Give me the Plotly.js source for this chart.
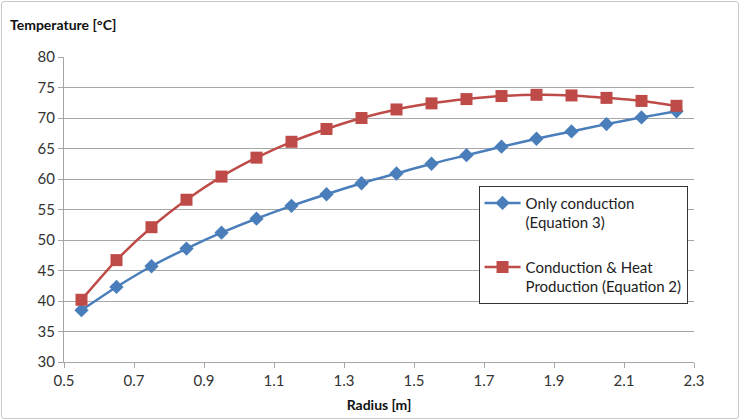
<!DOCTYPE html>
<html>
<head>
<meta charset="utf-8">
<script src="https://cdn.plot.ly/plotly-3.0.1.min.js"></script>
<style>
html,body{margin:0;padding:0;background:#fff;}
#chart{width:740px;height:420px;position:relative;}
#frame{position:absolute;left:1px;top:1px;width:736px;height:416px;border:1px solid #c8c8c8;border-radius:3px;pointer-events:none;}
</style>
</head>
<body>
<div style="position:relative;width:740px;height:420px;">
<div id="chart"></div>
<div id="frame"></div>
</div>
<script>
const radius = [0.55,0.65,0.75,0.85,0.95,1.05,1.15,1.25,1.35,1.45,1.55,1.65,1.75,1.85,1.95,2.05,2.15,2.25];
const onlyConduction = [38.5,42.3,45.7,48.6,51.2,53.5,55.6,57.5,59.3,60.9,62.5,63.9,65.3,66.6,67.8,69.0,70.1,71.1];
const conductionHeat = [40.2,46.7,52.1,56.6,60.4,63.5,66.1,68.2,70.0,71.4,72.4,73.1,73.6,73.8,73.7,73.3,72.8,72.0];
const seriesNames = ['Only conduction<br>(Equation 3)', 'Conduction &amp; Heat<br>Production (Equation 2)'];
const xTicks = [0.5,0.7,0.9,1.1,1.3,1.5,1.7,1.9,2.1,2.3];
const yTicks = [30,35,40,45,50,55,60,65,70,75,80];

const font = 'Lato, "Open Sans", sans-serif';
const traces = [
  {x: radius, y: onlyConduction, name: seriesNames[0], type:'scatter', mode:'lines+markers',
   legendgroup:'a',
   line:{color:'#4A7EBB', width:2.5, shape:'spline', smoothing:0.6},
   marker:{symbol:'diamond', size:11, color:'#4A7EBB'}},
  {x: radius, y: conductionHeat, name: seriesNames[1], type:'scatter', mode:'lines+markers',
   legendgroup:'b',
   line:{color:'#BE4B48', width:2.5, shape:'spline', smoothing:0.6},
   marker:{symbol:'square', size:12, color:'#BE4B48'}}
];
const layout = {
  width:740, height:420,
  margin:{l:64, r:46, t:57, b:58},
  paper_bgcolor:'#fff', plot_bgcolor:'#fff',
  font:{family:font, size:15, color:'#222'},
  title:{text:'<b>Temperature [°C]</b>', x:10/740, xanchor:'left', y:1-25/420, yanchor:'middle',
         font:{family:font, size:14, color:'#111'}},
  xaxis:{range:[0.5,2.3], tickvals:xTicks, ticktext:xTicks.map(v=>v.toFixed(1)),
         showgrid:false, zeroline:false, showline:true, linecolor:'#a6a6a6', linewidth:1,
         ticks:'outside', ticklen:5, tickcolor:'#a6a6a6',
         tickfont:{family:font, size:15, color:'#333'},
         title:{text:'<b>Radius [m]</b>', standoff:12, font:{family:font, size:14, color:'#111'}}},
  yaxis:{range:[30,80], tickvals:yTicks, showgrid:true, gridcolor:'#a6a6a6', gridwidth:1,
         zeroline:false, showline:true, linecolor:'#a6a6a6', linewidth:1,
         ticks:'outside', ticklen:5, tickcolor:'#a6a6a6',
         tickfont:{family:font, size:15, color:'#333'}},
  showlegend:true,
  legend:{x:0.658, y:0.578, xanchor:'left', yanchor:'top',
          bgcolor:'#fff', bordercolor:'#333', borderwidth:1,
          font:{family:font, size:15, color:'#222'},
          tracegroupgap:22, valign:'top', itemwidth:36}
};
Plotly.newPlot('chart', traces, layout, {displayModeBar:false, staticPlot:true});
</script>
</body>
</html>
